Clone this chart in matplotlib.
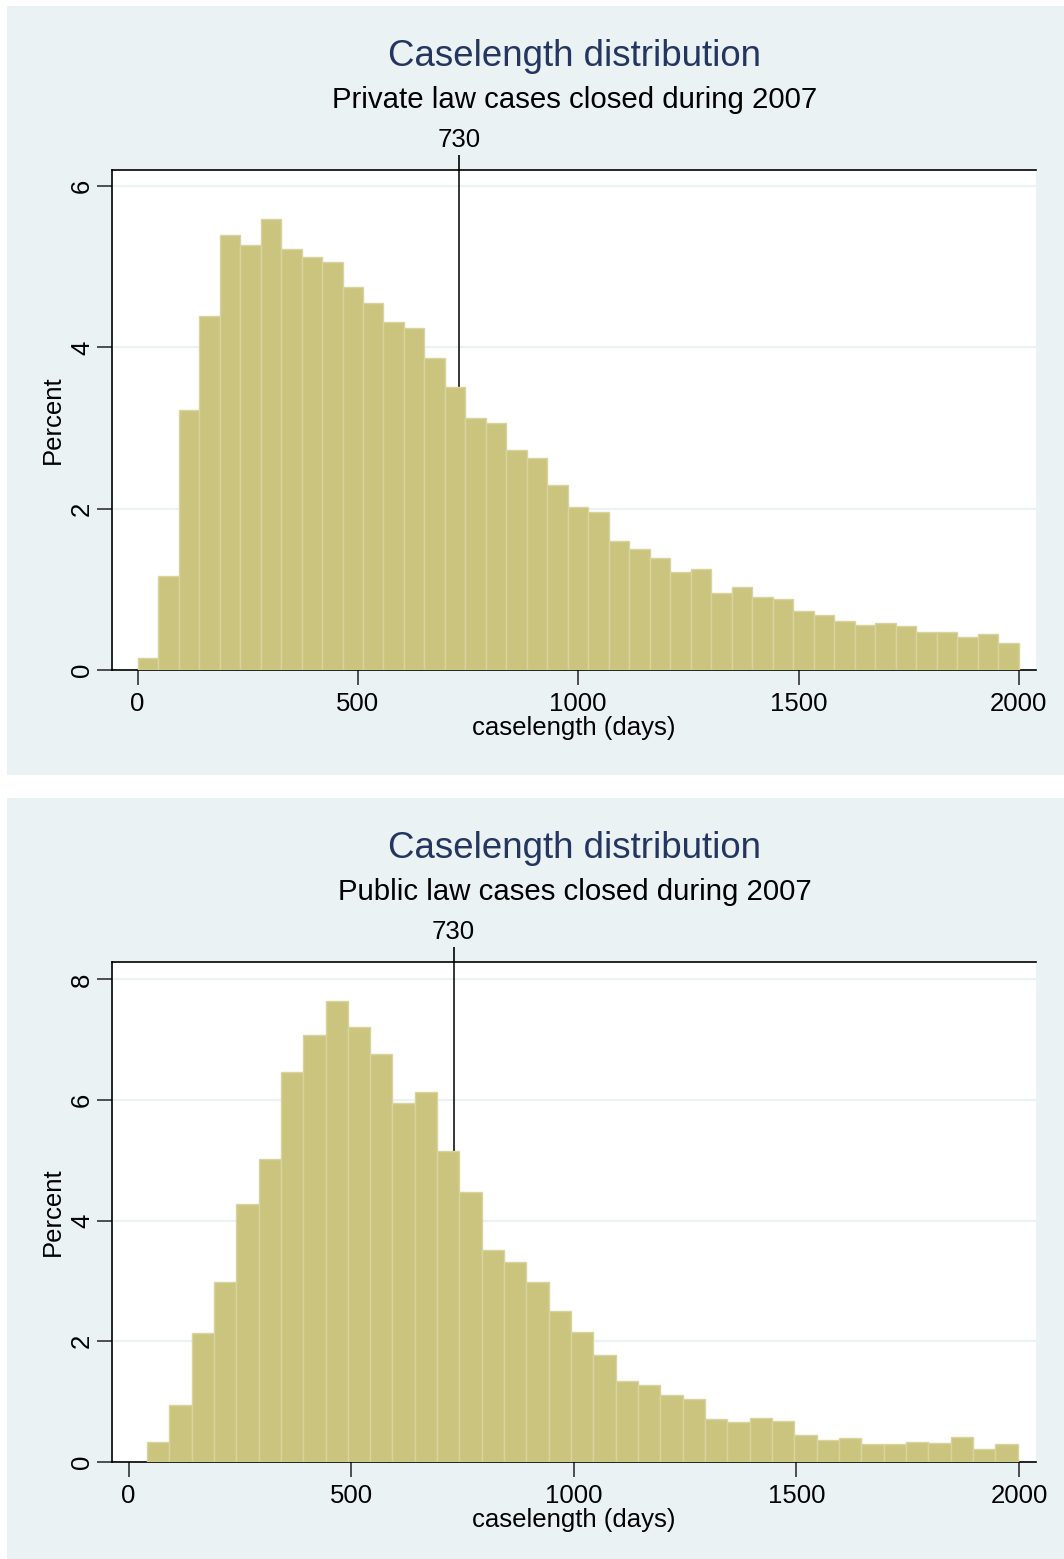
import matplotlib.pyplot as plt
from matplotlib.patches import Rectangle
import numpy as np

plt.rcParams['font.family'] = ['Liberation Sans', 'DejaVu Sans']

# percent per bin
private_pct = [0.15, 1.17, 3.22, 4.39, 5.40, 5.27, 5.59, 5.22, 5.12, 5.06, 4.75,
               4.55, 4.31, 4.24, 3.87, 3.51, 3.12, 3.06, 2.73, 2.63, 2.29, 2.02,
               1.96, 1.60, 1.50, 1.39, 1.21, 1.25, 0.96, 1.03, 0.90, 0.88, 0.73,
               0.68, 0.61, 0.56, 0.58, 0.54, 0.47, 0.47, 0.41, 0.45, 0.33]
private_range = (0, 2000)

public_pct = [0.33, 0.95, 2.14, 2.98, 4.27, 5.02, 6.46, 7.08, 7.65, 7.22, 6.77,
              5.96, 6.13, 5.15, 4.48, 3.52, 3.31, 2.98, 2.51, 2.15, 1.77, 1.35,
              1.27, 1.11, 1.04, 0.71, 0.67, 0.73, 0.68, 0.45, 0.37, 0.39, 0.30,
              0.30, 0.33, 0.31, 0.42, 0.22, 0.30]
public_range = (41, 1997)

marker_day = 730
titles = ["Caselength distribution", "Caselength distribution"]
subtitles = ["Private law cases closed during 2007", "Public law cases closed during 2007"]

W, H = 1064, 1559
bg = '#EAF2F3'
bar_fill = '#CBC47E'
bar_edge = '#D9D49F'
navy = '#243560'

fig = plt.figure(figsize=(W / 100, H / 100), dpi=100)
fig.patch.set_facecolor('white')


def fx(px):
    return px / W


def fy(py):
    return 1 - py / H


panels = [
    dict(pct=private_pct, rng=private_range, top=6, bot=775, ax_top=170, ax_bot=670,
         xlim=(-58, 2039), ylim=(0, 6.2), yticks=[0, 2, 4, 6]),
    dict(pct=public_pct, rng=public_range, top=798, bot=1559, ax_top=962, ax_bot=1462,
         xlim=(-37.3, 2038), ylim=(0, 8.29), yticks=[0, 2, 4, 6, 8]),
]

for i, p in enumerate(panels):
    # grey-blue panel background
    fig.patches.append(Rectangle((fx(7), fy(p['bot'])), fx(W - 7), (p['bot'] - p['top']) / H,
                                 transform=fig.transFigure, facecolor=bg, edgecolor='none', zorder=-10))

    ax = fig.add_axes([fx(112), fy(p['ax_bot']), fx(1036 - 112), (p['ax_bot'] - p['ax_top']) / H])
    ax.set_facecolor('white')

    n = len(p['pct'])
    edges = np.linspace(p['rng'][0], p['rng'][1], n + 1)
    ax.bar(edges[:-1], p['pct'], width=np.diff(edges), align='edge',
           color=bar_fill, edgecolor=bar_edge, linewidth=1.0, zorder=3)
    ax.axvline(marker_day, color='black', lw=1.1, zorder=2)

    ax.set_xlim(*p['xlim'])
    ax.set_ylim(*p['ylim'])
    ax.set_xticks([0, 500, 1000, 1500, 2000])
    ax.set_yticks(p['yticks'])
    ax.grid(axis='y', color=bg, lw=1.6, zorder=1)
    ax.set_axisbelow(True)

    for s in ['left', 'bottom', 'top']:
        ax.spines[s].set_color('black')
        ax.spines[s].set_linewidth(1.2)
    ax.spines['right'].set_visible(False)

    ax.tick_params(axis='both', length=11, width=1.2, color='#333333', labelsize=18.5)
    ax.tick_params(axis='x', pad=5)
    ax.tick_params(axis='y', labelrotation=90, pad=2)
    for lab in ax.get_yticklabels():
        lab.set_va('center')

    top = ax.secondary_xaxis('top')
    top.set_xticks([marker_day])
    top.tick_params(length=11, width=1.2, color='black', labelsize=18.5, pad=2)
    top.spines['top'].set_visible(False)

    ax.set_xlabel('caselength (days)', fontsize=18.5, labelpad=0)
    ax.set_ylabel('Percent', fontsize=18.5, labelpad=4)

    fig.text(0.54, fy(p['top'] + 50), titles[i], ha='center', va='center', fontsize=26.4, color=navy)
    fig.text(0.54, fy(p['top'] + 94), subtitles[i], ha='center', va='center', fontsize=21.2, color='black')

fig.savefig('out.png', dpi=100, facecolor=fig.get_facecolor())
